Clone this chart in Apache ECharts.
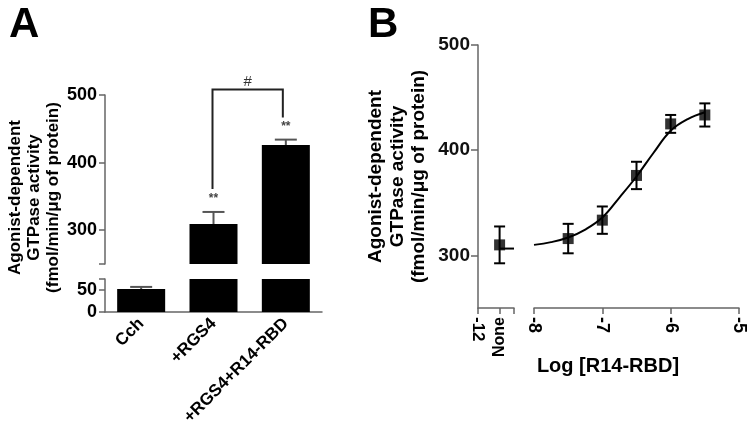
<!DOCTYPE html>
<html><head><meta charset="utf-8">
<script src="https://cdn.jsdelivr.net/npm/echarts@6/dist/echarts.min.js"></script>
<style>html,body{margin:0;padding:0;background:#fff}#c{width:750px;height:437px}</style>
</head><body><div id="c"></div>
<script>
// ---------- Panel A data ----------
const categoriesA = ['Cch', '+RGS4', '+RGS4+R14-RBD'];
const meansA = [52, 309, 426];
const errorsA = [5, 18, 8];
const sigLabelsA = ['', '**', '**'];
const bracketA = [1, 2];
const bracketLabelA = '#';
const upperTicksA = [250, 300, 400, 500];
const upperLabelsA = [300, 400, 500];
const lowerTicksA = [0, 50, 75];
const lowerLabelsA = [0, 50];

// ---------- Panel B data ----------
const noneLabelB = 'None';
const noneXB = -11.7;
const noneMeanB = 310;
const noneErrB = 17.5;
const noneCurveXB = [-11.7, -11.5];
const noneCurveYB = [306.5, 306.5];
const doseLogB = [-7.5, -7, -6.5, -6, -5.5];
const meansB = [316, 333.5, 376, 425, 433.5];
const errorsB = [14, 13, 13, 8.5, 11];
const curveXB = [-8, -7.75, -7.5, -7.25, -7, -6.75, -6.5, -6.25, -6, -5.75, -5.5];
const curveYB = [310, 312.6, 317, 324.6, 336, 355, 375, 397.6, 418.5, 429.5, 436];
const xTicksB = [-8, -7, -6, -5];
const leftTicksB = [-12, -11.7, -11.5];
const yTicksB = [300, 400, 500];

const FONT = 'Liberation Sans, Arial, Helvetica, sans-serif';
const AX = '#666';

function errA(params, api) {
  const cat = api.value(0), mean = api.value(1), err = api.value(2);
  const cs = params.coordSys;
  const base = api.coord([cat, mean]);
  const top = api.coord([cat, mean + err]);
  if (base[1] < cs.y - 0.5 || base[1] > cs.y + cs.height + 0.5 || top[1] < cs.y - 0.5) return null;
  const hw = 11;
  const st = {stroke: '#555', lineWidth: 2};
  const children = [
    {type: 'line', shape: {x1: base[0], y1: base[1], x2: top[0], y2: top[1]}, style: st},
    {type: 'line', shape: {x1: top[0] - hw, y1: top[1], x2: top[0] + hw, y2: top[1]}, style: st}
  ];
  return {type: 'group', children};
}
function sigA(params, api) {
  const i = params.dataIndex;
  const lab = sigLabelsA[i];
  if (!lab) return null;
  const p = api.coord([i, meansA[i] + errorsA[i]]);
  return {type: 'text', x: p[0], y: p[1] - 13,
    style: {text: lab, fill: '#444', font: 'bold 12px ' + FONT, align: 'center', verticalAlign: 'middle'}};
}
function bracketRender(params, api) {
  const a = bracketA[0], b = bracketA[1];
  const p1 = api.coord([a, meansA[a] + errorsA[a]]);
  const p2 = api.coord([b, meansA[b] + errorsA[b]]);
  const y1 = p1[1] - 23, y2 = p2[1] - 22;
  const yt = Math.min(y1, y2) - 28;
  const x1 = p1[0] - 1, x2 = p2[0] - 3;
  return {type: 'group', children: [
    {type: 'polyline', shape: {points: [[x1, y1], [x1, yt], [x2, yt], [x2, y2]]},
      style: {stroke: '#222', lineWidth: 2, fill: null}},
    {type: 'text', x: (x1 + x2) / 2, y: yt - 8,
      style: {text: bracketLabelA, fill: '#333', font: '15px ' + FONT, align: 'center', verticalAlign: 'middle'}}
  ]};
}
function errB(params, api) {
  const x = api.value(0), m = api.value(1), e = api.value(2);
  const t = api.coord([x, m + e]), b = api.coord([x, m - e]);
  const hw = 5.5, st = {stroke: '#000', lineWidth: 2};
  return {type: 'group', children: [
    {type: 'line', shape: {x1: t[0], y1: t[1], x2: b[0], y2: b[1]}, style: st},
    {type: 'line', shape: {x1: t[0] - hw, y1: t[1], x2: t[0] + hw, y2: t[1]}, style: st},
    {type: 'line', shape: {x1: b[0] - hw, y1: b[1], x2: b[0] + hw, y2: b[1]}, style: st}
  ]};
}

const yTitle = 'Agonist-dependent\nGTPase activity\n(fmol/min/\u03bcg of protein)';

const option = {
  animation: false,
  textStyle: {fontFamily: FONT},
  title: [
    {text: 'A', left: 9, top: 4, padding: 0, textStyle: {fontSize: 42, fontWeight: 'bold', color: '#000', fontFamily: FONT}},
    {text: 'B', left: 368, top: 4, padding: 0, textStyle: {fontSize: 42, fontWeight: 'bold', color: '#000', fontFamily: FONT}}
  ],
  grid: [
    {left: 105, top: 279, width: 217, height: 33},   // A lower
    {left: 105, top: 95, width: 217, height: 169},   // A upper
    {left: 478, top: 45, width: 36, height: 263},    // B left segment
    {left: 534, top: 45, width: 205, height: 263}    // B right segment
  ],
  xAxis: [
    {gridIndex: 0, type: 'category', data: categoriesA,
      axisLine: {lineStyle: {color: AX, width: 1.5}}, axisTick: {show: false},
      axisLabel: {rotate: 45, margin: 9, color: '#000', fontSize: 17, fontWeight: 'bold', fontFamily: FONT}},
    {gridIndex: 1, type: 'category', data: categoriesA, show: false},
    {gridIndex: 2, type: 'value', min: -12, max: -11.5, position: 'bottom',
      axisLine: {lineStyle: {color: AX, width: 1.5}},
      axisTick: {customValues: leftTicksB, length: 6, lineStyle: {color: AX, width: 1.5}},
      axisLabel: {customValues: [leftTicksB[0]], rotate: -90, margin: 9, color: '#000', fontSize: 17, fontWeight: 'bold', fontFamily: FONT},
      splitLine: {show: false}},
    {gridIndex: 2, type: 'value', min: -12, max: -11.5, position: 'bottom', offset: 0,
      axisLine: {show: false}, axisTick: {show: false},
      axisLabel: {customValues: [noneXB], formatter: () => noneLabelB, rotate: 90, margin: 9, color: '#000', fontSize: 16, fontWeight: 'bold', fontFamily: FONT},
      splitLine: {show: false}},
    {gridIndex: 3, type: 'value', min: -8, max: -5, interval: 1, position: 'bottom',
      axisLine: {lineStyle: {color: AX, width: 1.5}},
      axisTick: {customValues: xTicksB, length: 6, lineStyle: {color: AX, width: 1.5}},
      axisLabel: {customValues: xTicksB, rotate: -90, margin: 9, color: '#000', fontSize: 18, fontWeight: 'bold', fontFamily: FONT},
      splitLine: {show: false},
      name: 'Log [R14-RBD]', nameLocation: 'middle', nameGap: 48,
      nameTextStyle: {fontSize: 20, fontWeight: 'bold', color: '#000', fontFamily: FONT, padding: [0, 57, 0, 0]}}
  ],
  yAxis: [
    {gridIndex: 0, type: 'value', min: 0, max: 75,
      axisLine: {show: true, lineStyle: {color: AX, width: 1.5}},
      axisTick: {show: true, customValues: lowerTicksA, length: 6, lineStyle: {color: AX, width: 1.5}},
      axisLabel: {customValues: lowerLabelsA, margin: 8, color: '#000', fontSize: 18, fontWeight: 'bold', fontFamily: FONT},
      splitLine: {show: false}},
    {gridIndex: 1, type: 'value', min: 250, max: 500,
      axisLine: {show: true, lineStyle: {color: AX, width: 1.5}},
      axisTick: {show: true, customValues: upperTicksA, length: 6, lineStyle: {color: AX, width: 1.5}},
      axisLabel: {customValues: upperLabelsA, margin: 8, color: '#000', fontSize: 18, fontWeight: 'bold', fontFamily: FONT},
      splitLine: {show: false},
      name: yTitle, nameLocation: 'middle', nameGap: 40, nameRotate: 90,
      nameTextStyle: {fontSize: 17, fontWeight: 'bold', color: '#000', lineHeight: 19, fontFamily: FONT, padding: [0, 36, 0, 0]}},
    {gridIndex: 2, type: 'value', min: 250, max: 500,
      axisLine: {show: true, lineStyle: {color: AX, width: 1.5}},
      axisTick: {show: true, customValues: yTicksB, length: 7, lineStyle: {color: AX, width: 1.5}},
      axisLabel: {customValues: yTicksB, margin: 8, color: '#111', fontSize: 19, fontWeight: 'bold', fontFamily: FONT},
      splitLine: {show: false},
      name: yTitle, nameLocation: 'middle', nameGap: 48, nameRotate: 90,
      nameTextStyle: {fontSize: 19, fontWeight: 'bold', color: '#000', lineHeight: 21.5, fontFamily: FONT}},
    {gridIndex: 3, type: 'value', min: 250, max: 500, show: false, splitLine: {show: false}}
  ],
  series: [
    {type: 'bar', xAxisIndex: 0, yAxisIndex: 0, data: meansA, barWidth: 48, clip: true,
      itemStyle: {color: '#000'}},
    {type: 'bar', xAxisIndex: 1, yAxisIndex: 1, data: meansA, barWidth: 48, clip: true,
      itemStyle: {color: '#000'}},
    {type: 'custom', xAxisIndex: 0, yAxisIndex: 0, renderItem: errA, z: 1,
      data: meansA.map((m, i) => [i, m, errorsA[i]])},
    {type: 'custom', xAxisIndex: 1, yAxisIndex: 1, renderItem: errA, z: 1,
      data: meansA.map((m, i) => [i, m, errorsA[i]])},
    {type: 'custom', xAxisIndex: 1, yAxisIndex: 1, renderItem: sigA, z: 3,
      data: meansA.map((m, i) => [i, m + errorsA[i]])},
    {type: 'custom', xAxisIndex: 1, yAxisIndex: 1, renderItem: bracketRender, z: 3,
      data: [[bracketA[0], meansA[bracketA[0]]]]},
    // Panel B
    {type: 'line', xAxisIndex: 2, yAxisIndex: 2, data: noneCurveXB.map((x, i) => [x, noneCurveYB[i]]),
      symbol: 'none', lineStyle: {color: '#000', width: 2}},
    {type: 'custom', xAxisIndex: 2, yAxisIndex: 2, renderItem: errB, data: [[noneXB, noneMeanB, noneErrB]]},
    {type: 'scatter', xAxisIndex: 2, yAxisIndex: 2, data: [[noneXB, noneMeanB]],
      symbol: 'rect', symbolSize: 11, itemStyle: {color: '#000'}, z: 4},
    {type: 'line', xAxisIndex: 4, yAxisIndex: 3, data: curveXB.map((x, i) => [x, curveYB[i]]),
      symbol: 'none', smooth: 0.4, lineStyle: {color: '#000', width: 2}},
    {type: 'custom', xAxisIndex: 4, yAxisIndex: 3, renderItem: errB,
      data: doseLogB.map((x, i) => [x, meansB[i], errorsB[i]])},
    {type: 'scatter', xAxisIndex: 4, yAxisIndex: 3, data: doseLogB.map((x, i) => [x, meansB[i]]),
      symbol: 'rect', symbolSize: 11, itemStyle: {color: '#000'}, z: 4}
  ]
};
const chart = echarts.init(document.getElementById('c'), null, {renderer: 'canvas'});
chart.setOption(option);
</script></body></html>
